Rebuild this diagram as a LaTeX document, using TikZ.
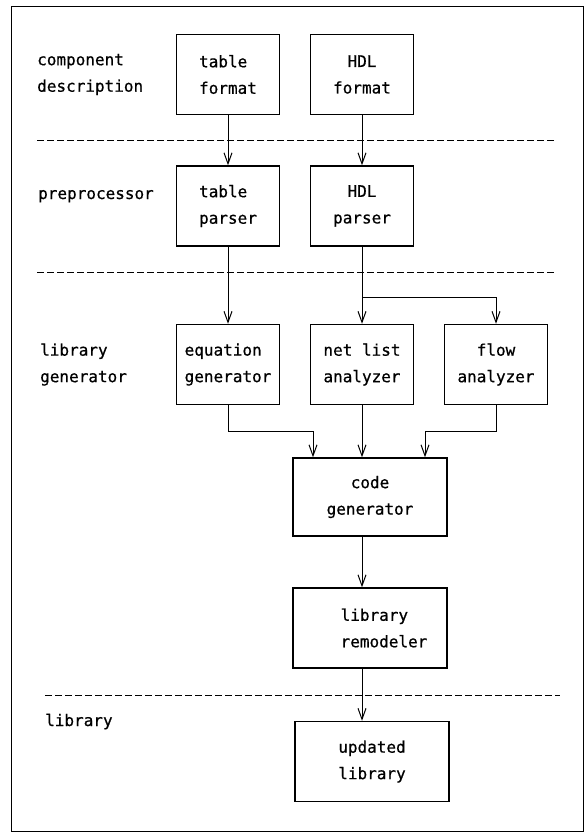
\documentclass[tikz,border=0pt]{standalone}
\usepackage{fontspec}
\setmonofont[FakeBold=0.6]{DejaVu Sans Mono}
\usetikzlibrary{arrows.meta,calc}
\begin{document}
\begin{tikzpicture}[x=1pt,y=-1pt,
  every node/.style={font=\ttfamily\fontsize{16}{26.5}\selectfont},
  box/.style={draw,line width=1.5pt,minimum height=80pt,inner sep=0pt,align=center},
  narrow/.style={box,minimum width=103pt},
  wide/.style={box,minimum width=154pt},
  lbl/.style={anchor=west,inner sep=0pt,align=left},
  arr/.style={line width=1pt,-{Straight Barb[length=11pt,width=8pt,line width=1pt]}},
  sep/.style={line width=0.9pt,dash pattern=on 7pt off 3pt},
]
\useasboundingbox (0,0) rectangle (585,832);
% outer frame
\draw[line width=0.8pt] (11,6) rectangle (583,831);

% stage labels
\node[lbl] (lcomp) at (37,74.5) {component\\description};
\node[lbl,anchor=base west] (lpre) at (38,199) {preprocessor};
\node[lbl] (lgen) at (40,364.5) {library\\generator};
\node[lbl,anchor=base west] (llib) at (45,726) {library};

% stage separators
\draw[sep] (37,140) -- (555,140);
\draw[sep] (37,272) -- (555,272);
\draw[sep] (45,695) -- (560,695);

% blocks
\node[narrow,align=left] (tf) at (228,74.5) {table\\format};
\node[narrow] (hf) at (362,74.5) {HDL\\format};
\node[narrow,align=left] (tp) at (228,206) {table\\parser};
\node[narrow] (hp) at (362,206) {HDL\\parser};
\node[narrow,align=left] (eg) at (228,364.5) {equation\\generator};
\node[narrow] (nl) at (362,364.5) {net list\\analyzer};
\node[narrow] (fa) at (496,364.5) {flow\\analyzer};
\node[wide,minimum height=78pt] (cg) at (370,497) {code\\generator};
\node[wide,align=left] (lr) at (370,628) {\hspace*{28pt}library\\\hspace*{28pt}remodeler};
\node[wide,align=left] (ul) at (372,761.5) {updated\\library};

% data flow
\draw[arr] (tf) -- (tp);
\draw[arr] (hf) -- (hp);
\draw[arr] (tp) -- (eg);
\draw[arr] (hp) -- (nl);
\coordinate (br) at ($(nl.north)+(0,-26)$);
\draw[arr] (br) -| (fa.north);
\draw[arr] (eg.south) |- ($(cg.north)+(-57,-26)$) -- ($(cg.north)+(-57,0)$);
\draw[arr] (nl) -- (nl |- cg.north);
\draw[arr] (fa.south) |- ($(cg.north)+(55,-26)$) -- ($(cg.north)+(55,0)$);
\draw[arr] (cg.south -| nl) -- (lr.north -| nl);
\draw[arr] (lr.south -| nl) -- (ul.north -| nl);
\end{tikzpicture}
\end{document}
